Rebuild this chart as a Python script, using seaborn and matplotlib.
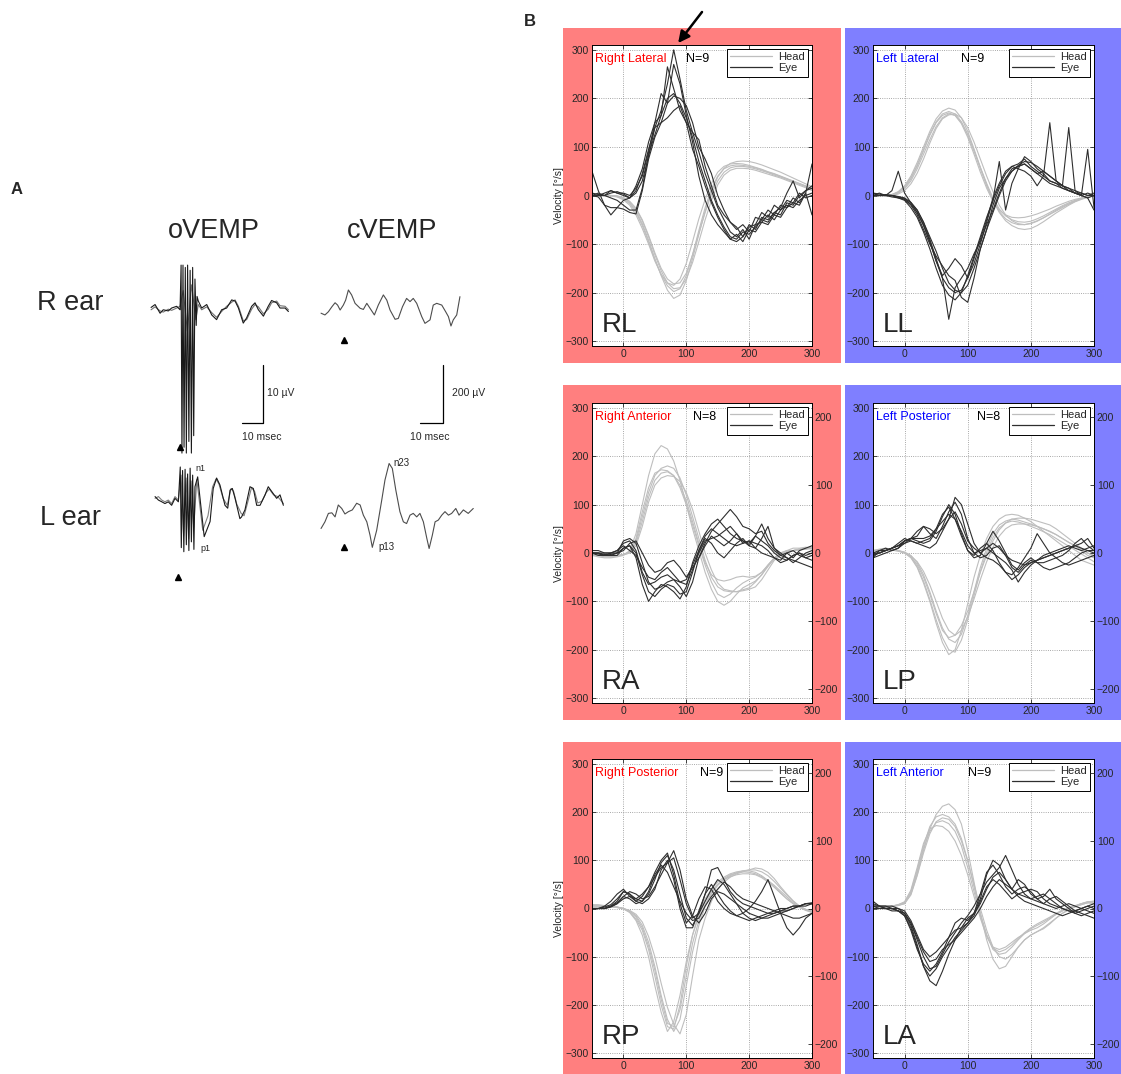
import numpy as np
import pandas as pd
import matplotlib
matplotlib.use("Agg")
import matplotlib.pyplot as plt
import seaborn as sns
from matplotlib.patches import Rectangle
from matplotlib.lines import Line2D

W, H = 1121, 1074

# ---------------- panel B data: velocity [deg/s] every 10 ms from -50 to 300 ms
T_MS = np.arange(-50, 301, 10)

RL_HEAD = [
    [0, 0, 0, 0, -2, -6, -15, -32, -58, -92, -130, -165, -195, -212, -205, -175, -130, -80, -32, 8, 38, 56, 66, 70, 71, 70, 67, 63, 58, 53, 48, 42, 36, 30, 24, 18],
    [0, 0, 0, -1, -3, -9, -20, -40, -68, -100, -135, -162, -180, -185, -172, -140, -95, -48, -8, 25, 48, 60, 65, 66, 65, 62, 58, 54, 49, 45, 40, 35, 30, 25, 20, 15],
    [0, 0, 0, 0, -1, -4, -12, -26, -50, -82, -118, -150, -172, -182, -180, -160, -122, -78, -35, 2, 30, 48, 57, 60, 60, 58, 55, 51, 47, 42, 38, 33, 28, 23, 18, 14],
    [0, 0, 0, 0, -2, -7, -17, -35, -62, -96, -132, -163, -186, -198, -192, -165, -122, -72, -25, 14, 40, 55, 61, 63, 62, 60, 57, 53, 48, 44, 39, 34, 29, 24, 19, 12],
    [0, 0, 0, 0, -1, -5, -13, -28, -52, -85, -122, -155, -180, -192, -190, -172, -138, -95, -50, -10, 22, 42, 52, 56, 56, 55, 52, 48, 44, 40, 36, 31, 26, 21, 16, 10],
]
RL_EYE = [
    [5, 2, 0, 5, 8, 3, -5, 10, 45, 95, 140, 175, 230, 300, 240, 175, 130, 90, 45, 10, -25, -50, -75, -85, -70, -90, -60, -55, -40, -50, -30, -20, -25, -10, 0, 5],
    [50, 10, -20, -40, -25, -10, -5, 20, 55, 110, 150, 165, 200, 210, 190, 160, 120, 70, 30, -10, -40, -65, -85, -90, -75, -80, -65, -50, -55, -35, -25, 5, 30, -5, 10, 15],
    [0, 0, 5, 10, 5, 0, -5, 5, 30, 80, 140, 150, 160, 175, 185, 150, 95, 60, 20, -15, -45, -70, -90, -80, -95, -70, -75, -55, -60, -40, -45, -25, -15, -20, 5, 65],
    [0, 0, 0, -5, -10, -20, -30, -30, 15, 85, 125, 165, 265, 220, 175, 150, 130, 115, 60, 20, -20, -40, -55, -70, -60, -75, -45, -50, -30, -40, -20, -25, -5, -15, 5, -40],
    [0, -3, -20, -25, -25, -28, -35, -38, 10, 75, 120, 150, 190, 205, 200, 185, 150, 100, 75, 45, 0, -30, -55, -65, -85, -60, -70, -45, -50, -35, -40, -15, -20, 0, 10, 20],
    [0, 5, 0, 10, 5, 5, 0, 15, 40, 90, 150, 210, 190, 270, 230, 165, 110, 40, -10, -40, -60, -75, -90, -95, -85, -65, -60, -35, -45, -20, -30, -10, -15, 5, -5, 0],
]

LL_HEAD = [
    [0, 0, 0, 2, 8, 20, 40, 68, 100, 132, 158, 174, 180, 176, 160, 132, 96, 58, 22, -10, -35, -52, -62, -68, -70, -68, -62, -54, -45, -36, -28, -20, -13, -8, -4, 0],
    [0, 0, 0, 1, 5, 14, 30, 55, 85, 115, 142, 160, 168, 165, 150, 125, 92, 58, 25, -5, -28, -42, -50, -54, -55, -53, -48, -42, -35, -28, -21, -15, -10, -6, -3, 0],
    [0, 0, 0, 1, 6, 16, 34, 60, 92, 124, 150, 165, 170, 165, 148, 120, 85, 48, 15, -12, -30, -40, -45, -46, -45, -42, -38, -33, -28, -22, -17, -12, -8, -5, -2, 0],
    [0, 0, 0, 0, 3, 10, 24, 46, 75, 108, 138, 158, 166, 168, 160, 140, 110, 75, 40, 8, -20, -40, -52, -58, -60, -58, -53, -46, -38, -30, -23, -17, -11, -6, -3, 0],
    [0, 0, 0, 2, 7, 18, 37, 63, 95, 127, 152, 168, 173, 168, 152, 126, 92, 55, 20, -10, -33, -48, -56, -60, -60, -57, -52, -46, -39, -32, -25, -18, -12, -7, -3, 0],
]
LL_EYE = [
    [5, 0, 2, 0, -5, -10, -25, -45, -75, -110, -150, -185, -205, -215, -200, -165, -125, -85, -45, -10, 20, 45, 60, 65, 75, 60, 50, 40, 30, 25, 20, 10, 5, 0, 5, 0],
    [0, 0, 0, 10, 50, 5, -15, -35, -60, -95, -135, -170, -190, -200, -195, -170, -130, -90, -50, -5, 25, 50, 60, 55, 50, 40, 20, 40, 150, 30, 20, 140, 10, 0, 95, -25],
    [0, 5, 0, 0, -2, -5, -15, -30, -55, -90, -130, -170, -255, -190, -170, -150, -120, -95, -60, -30, 5, 35, 55, 60, 65, 55, 45, 35, 25, 20, 15, 10, 5, 5, 0, 0],
    [0, 0, 0, -3, -5, -8, -20, -40, -70, -100, -125, -145, -165, -175, -210, -220, -170, -110, -70, -20, 15, 35, 50, 60, 65, 55, 45, 50, 40, 30, 20, 15, 10, 5, 0, 5],
    [0, 0, 0, 0, -3, -8, -18, -35, -62, -95, -135, -165, -150, -130, -145, -170, -140, -100, -55, -10, 70, -30, 25, 55, 80, 70, 55, 45, 30, 25, 15, 10, 5, 0, -5, 0],
    [5, 3, 0, 0, -3, -6, -14, -30, -55, -85, -115, -150, -180, -195, -200, -185, -150, -110, -70, -35, 0, 30, 50, 62, 70, 68, 60, 50, 40, 30, 20, 15, 5, 0, -5, -30],
]

RA_HEAD = [
    [-5, -8, -10, -10, -8, -5, 5, 40, 100, 160, 205, 222, 215, 190, 150, 100, 50, 5, -40, -75, -100, -108, -100, -85, -72, -65, -58, -45, -25, -10, 0, 5, 10, 10, 12, 10],
    [-5, -5, -8, -8, -6, -3, 2, 25, 75, 125, 160, 175, 180, 175, 155, 120, 75, 30, -15, -50, -70, -78, -80, -80, -78, -75, -70, -55, -35, -15, -5, 0, 5, 8, 10, 12],
    [-3, -5, -5, -6, -5, -3, 0, 20, 65, 115, 150, 165, 168, 160, 140, 108, 65, 20, -20, -45, -55, -58, -55, -50, -48, -50, -48, -40, -25, -10, 0, 5, 5, 8, 10, 8],
    [-5, -5, -6, -8, -6, -4, 0, 15, 55, 105, 140, 155, 160, 158, 148, 125, 90, 45, 0, -35, -62, -75, -78, -80, -76, -72, -60, -45, -28, -12, -3, 3, 5, 8, 8, 10],
    [-4, -5, -6, -6, -5, -3, 3, 30, 85, 135, 165, 172, 170, 160, 135, 100, 58, 15, -25, -60, -85, -92, -85, -72, -62, -55, -50, -40, -25, -12, -3, 2, 5, 6, 8, 10],
]
RA_EYE = [
    [0, -2, -5, 0, 5, 20, 25, 5, -40, -65, -60, -50, -45, -55, -70, -90, -60, -10, 20, 45, 60, 75, 90, 75, 55, 50, 40, 45, 20, 5, -5, -10, -15, -20, -25, -30],
    [0, 0, -5, -5, 0, 25, 30, 20, -20, -60, -75, -70, -60, -55, -60, -65, -35, 0, 25, 30, 35, 45, 55, 40, 25, 15, 10, 30, 55, 10, -5, 0, -10, 5, 10, 15],
    [0, 0, -3, -5, -5, 10, 15, -10, -65, -100, -80, -65, -70, -80, -95, -70, -20, 15, 40, 60, 70, 55, 40, 30, 25, 20, 35, 25, 15, 0, -10, -15, -5, 0, -10, -15],
    [0, 0, 0, 0, 0, 5, 20, 25, 0, -25, -40, -35, -20, -15, -30, -50, -30, -10, 15, 35, 25, 15, 25, 40, 20, 25, 10, 0, -5, -10, -15, 0, 5, -5, -10, -5],
    [5, 5, 0, 0, 5, 15, 5, -5, -30, -50, -55, -40, -30, -45, -60, -55, -25, 5, 30, 20, 0, -10, 5, 20, 30, 15, 35, 60, 30, 10, 0, -10, -20, -10, 0, 5],
    [0, -5, -5, -3, 0, 10, 15, 0, -45, -80, -90, -75, -65, -70, -85, -80, -40, 5, 35, 50, 40, 30, 20, 15, 20, 25, 20, 15, 5, -10, -20, -15, -5, 0, -5, 0],
]

LP_HEAD = [
    [5, 8, 10, 8, 5, 0, -10, -30, -62, -100, -145, -185, -210, -200, -160, -105, -50, -5, 30, 55, 70, 78, 80, 78, 72, 65, 55, 45, 35, 25, 15, 5, -5, -15, -20, -25],
    [5, 5, 8, 8, 5, 2, -5, -20, -45, -80, -120, -155, -178, -185, -168, -130, -80, -30, 10, 40, 58, 66, 70, 68, 64, 60, 55, 50, 45, 38, 30, 22, 15, 5, -5, -10],
    [5, 6, 8, 6, 4, 0, -8, -24, -50, -85, -125, -160, -175, -170, -150, -120, -80, -40, -5, 25, 48, 62, 70, 72, 72, 70, 66, 62, 58, 50, 40, 30, 20, 10, 0, -8],
    [4, 5, 6, 6, 4, 0, -6, -18, -38, -66, -100, -135, -160, -170, -160, -132, -95, -55, -18, 12, 35, 50, 58, 60, 60, 58, 55, 50, 44, 38, 30, 22, 15, 8, 0, -5],
    [5, 7, 9, 8, 5, 1, -8, -28, -58, -96, -138, -175, -200, -205, -180, -138, -88, -38, 2, 32, 52, 62, 66, 64, 60, 55, 50, 44, 38, 30, 22, 14, 6, -2, -10, -18],
]
LP_EYE = [
    [-10, 5, 10, 5, 10, 25, 30, 25, 20, 25, 45, 75, 100, 80, 40, 5, -5, 10, 20, 5, -20, -40, -55, -45, -30, -20, -15, -10, -5, 0, 5, 10, 15, 10, 5, 5],
    [-5, 0, 5, 10, 15, 25, 30, 35, 55, 40, 30, 55, 85, 105, 80, 30, 0, -10, -5, 10, 15, -5, -30, -40, -25, -15, -20, -20, -15, -10, -5, 5, 20, 30, 15, 5],
    [-5, 0, 5, 10, 20, 30, 25, 20, 25, 30, 50, 80, 95, 70, 35, 5, -10, -5, 20, 45, 25, 0, -25, -35, -20, -10, -20, -30, -35, -30, -25, -20, -10, 0, 5, 0],
    [0, 5, 5, 10, 15, 25, 30, 30, 30, 35, 50, 65, 80, 70, 45, 15, 0, 5, 10, 0, -10, -20, -35, -60, -40, -25, -15, -5, 0, 5, 10, 15, 10, 5, 10, 15],
    [0, 0, 5, 10, 15, 20, 30, 45, 55, 50, 40, 50, 70, 85, 60, 25, 10, 0, -10, -15, -25, -40, -45, -30, -10, 10, 40, 20, 0, -10, -20, -25, -20, -15, -10, -5],
    [-10, -5, 0, 5, 10, 20, 25, 20, 15, 10, 20, 45, 70, 115, 100, 60, 20, 0, 10, 20, 10, -5, -15, -20, -25, -20, -15, -10, -5, 0, 5, 10, 15, 20, 30, 10],
]

RP_HEAD = [
    [8, 8, 6, 5, 3, 0, -8, -22, -45, -85, -140, -200, -245, -250, -200, -120, -55, -10, 20, 40, 55, 65, 72, 76, 78, 78, 75, 68, 58, 45, 32, 20, 10, 3, -3, -8],
    [5, 5, 5, 4, 2, 0, -5, -15, -35, -70, -120, -180, -230, -255, -230, -160, -90, -35, 5, 30, 48, 60, 68, 74, 78, 80, 80, 76, 68, 56, 42, 28, 15, 5, -2, -5],
    [5, 5, 5, 4, 3, 0, -6, -18, -40, -78, -128, -188, -238, -245, -210, -140, -72, -25, 8, 32, 50, 62, 70, 74, 76, 75, 72, 66, 58, 48, 36, 24, 12, 4, -2, -6],
    [6, 6, 5, 4, 2, -1, -8, -25, -55, -100, -160, -215, -255, -235, -180, -110, -55, -15, 15, 35, 50, 60, 66, 70, 72, 72, 70, 64, 55, 44, 32, 20, 10, 2, -4, -8],
    [5, 5, 5, 4, 3, 0, -4, -12, -28, -58, -100, -155, -205, -240, -260, -220, -140, -65, -20, 15, 40, 55, 65, 72, 76, 80, 84, 82, 75, 62, 45, 30, 16, 5, -2, -5],
]
RP_EYE = [
    [0, 0, 5, 15, 30, 40, 25, 15, 25, 45, 75, 100, 115, 70, 10, -30, -15, 20, 45, 40, 15, 0, -10, -15, -20, -25, -20, -15, -10, -5, 0, 0, 5, 5, 10, 10],
    [0, 0, 0, 5, 15, 35, 30, 20, 15, 30, 60, 95, 110, 80, 30, -20, -35, -10, 30, 80, 85, 60, 35, 20, 10, 5, 0, -5, -10, -10, -5, -5, 0, 5, 5, 10],
    [0, 0, 0, 3, 10, 25, 35, 30, 20, 25, 45, 70, 95, 120, 80, 20, -15, -30, -10, 20, 35, 30, 20, 10, 0, -10, -15, -20, -20, -15, -10, -5, 0, 5, 10, 12],
    [0, 0, 3, 8, 20, 35, 30, 15, 10, 20, 40, 80, 100, 60, 0, -40, -40, -5, 30, 50, 30, 10, -5, -15, -10, 0, 15, 35, 60, 25, -10, -40, -55, -40, -20, -10],
    [0, 0, 0, 5, 12, 25, 20, 10, 15, 35, 70, 90, 75, 45, 15, -10, -25, -20, 5, 25, 40, 55, 45, 30, 20, 15, 10, 5, 0, -5, -10, -15, -20, -20, -15, -10],
    [0, 0, 0, 4, 10, 20, 25, 20, 30, 45, 65, 85, 95, 105, 60, 10, -20, -10, 15, 40, 60, 50, 30, 10, -10, -20, -25, -20, -15, -10, -5, 0, 5, 5, 10, 10],
]

LA_HEAD = [
    [0, 0, 2, 5, 8, 12, 30, 70, 120, 165, 195, 212, 217, 205, 175, 120, 55, -10, -65, -105, -125, -120, -100, -80, -65, -55, -48, -40, -30, -20, -10, -3, 3, 8, 12, 15],
    [0, 0, 2, 4, 7, 12, 35, 80, 130, 170, 190, 195, 190, 175, 145, 100, 45, -10, -55, -85, -95, -92, -80, -65, -52, -42, -35, -28, -20, -12, -5, 0, 5, 10, 14, 15],
    [0, 0, 1, 4, 7, 10, 32, 75, 125, 160, 178, 182, 176, 160, 130, 85, 35, -15, -55, -80, -85, -80, -70, -60, -52, -45, -40, -32, -22, -12, -5, 0, 5, 8, 12, 10],
    [0, 1, 2, 5, 8, 14, 38, 85, 135, 165, 172, 170, 160, 140, 110, 70, 25, -20, -58, -82, -90, -85, -75, -62, -50, -40, -32, -25, -18, -10, -3, 2, 6, 10, 12, 12],
    [0, 0, 2, 4, 6, 10, 28, 68, 115, 155, 180, 188, 185, 170, 140, 98, 50, 0, -45, -80, -100, -105, -95, -80, -65, -55, -48, -42, -32, -20, -10, -2, 5, 10, 14, 15],
]
LA_EYE = [
    [15, 5, 0, 0, 0, -10, -35, -75, -120, -150, -160, -130, -95, -65, -40, -20, -10, 20, 70, 100, 90, 60, 40, 30, 25, 20, 25, 30, 20, 10, 0, -5, -10, -5, 0, 5],
    [5, 5, 5, 0, -5, -15, -40, -80, -120, -140, -125, -100, -80, -60, -45, -30, -10, 30, 75, 90, 70, 45, 30, 40, 45, 35, 20, 10, 20, 25, 15, 5, -5, -10, -15, -20],
    [5, 0, 0, 0, -5, -10, -30, -65, -100, -125, -120, -95, -70, -50, -30, -15, 5, 30, 55, 70, 85, 110, 80, 50, 30, 20, 15, 10, 5, 0, 5, 10, 5, 0, -5, -10],
    [10, 5, 5, 5, 0, -5, -25, -55, -85, -100, -90, -75, -60, -45, -40, -30, -15, 15, 45, 60, 50, 35, 20, 30, 35, 40, 35, 20, 10, 5, 0, -5, -5, 0, 5, 10],
    [0, 0, 0, -5, -5, -15, -45, -85, -115, -130, -115, -90, -60, -30, -20, -25, -10, 10, 40, 65, 75, 60, 40, 25, 15, 10, 5, 0, -5, -10, -15, -10, -5, 0, 5, 0],
    [5, 5, 0, 0, -5, -10, -30, -60, -90, -110, -105, -85, -75, -65, -50, -35, -20, 0, 25, 45, 60, 50, 40, 60, 50, 30, 20, 25, 40, 20, 10, 0, -10, -15, -10, -5],
]

# label, title, N, row, col, head curves, eye curves
PANELS = [
    ("RL", "Right Lateral", 9, 0, 0, RL_HEAD, RL_EYE),
    ("LL", "Left Lateral", 9, 0, 1, LL_HEAD, LL_EYE),
    ("RA", "Right Anterior", 8, 1, 0, RA_HEAD, RA_EYE),
    ("LP", "Left Posterior", 8, 1, 1, LP_HEAD, LP_EYE),
    ("RP", "Right Posterior", 9, 2, 0, RP_HEAD, RP_EYE),
    ("LA", "Left Anterior", 9, 2, 1, LA_HEAD, LA_EYE),
]
N_X = {"RL": 0.427, "LL": 0.40, "RA": 0.46, "LP": 0.47, "RP": 0.49, "LA": 0.43}

LEFT_TICKS = [-300, -200, -100, 0, 100, 200, 300]
RIGHT_TICKS = [-200, -100, 0, 100, 200]
X_TICKS = [0, 100, 200, 300]

# ---------------- panel A data (time ms from stimulus, amplitude uV)
OVEMP_R1_T = [-13.3, -11.4, -9.0, -7.5, -5.1, -3.5, -1.1, 0.5,
              1.0, 1.4, 1.9, 2.4, 3.0, 3.5, 4.1, 4.7, 5.3, 5.9, 6.5, 7.0, 7.6, 8.2, 8.6,
              9.2, 10.8, 13.2, 15.6, 17.9, 20.3, 22.7, 25.1, 26.7, 28.3, 30.6, 32.2, 34.6, 36.2,
              37.8, 40.2, 42.5, 44.1, 46.5, 48.1, 50.5, 52.1]
OVEMP_R1_V = [0.1, 0.6, -0.9, -0.3, -0.5, 0.0, 0.3, -0.3,
              7.4, -25.0, 7.4, -24.0, 7.0, -25.0, 7.4, -23.0, 6.5, -25.0, 7.0, -22.0, 5.0, -3.0, 2.0,
              1.2, 0.0, 0.6, -1.2, -2.0, -0.3, 0.0, 1.4, 1.2, 0.0, -2.6, -1.7, 0.3, 0.9,
              -0.3, -1.4, 0.3, 1.3, 0.9, 0.0, 0.0, -0.6]
OVEMP_R2_T = [-13.3, -11.4, -9.0, -7.5, -5.1, -3.5, -1.1, 0.5, 2.0, 4.0, 6.0, 8.0,
              9.2, 10.8, 13.2, 15.6, 17.9, 20.3, 22.7, 25.1, 26.7, 28.3, 30.6, 32.2, 34.6, 36.2,
              37.8, 40.2, 42.5, 44.1, 46.5, 48.1, 50.5, 52.1]
OVEMP_R2_V = [-0.3, 0.2, -0.5, -0.7, -0.2, -0.4, 0.0, 0.3, 3.0, -4.0, 4.0, -2.0,
              0.6, -0.3, 0.2, -0.8, -1.6, -0.6, 0.3, 1.0, 1.4, 0.3, -2.2, -2.0, -0.2, 0.6,
              0.2, -1.0, -0.2, 0.9, 1.2, 0.4, 0.3, -0.3]
OVEMP_L1_T = [-11.4, -9.8, -8.2, -6.7, -5.1, -3.5, -1.9, -0.3,
              0.6, 1.1, 1.7, 2.3, 2.9, 3.5, 4.1, 4.7, 5.3, 5.9, 6.5, 7.1, 7.6,
              8.9, 12.0, 14.8, 16.3, 17.9, 19.5, 21.9, 23.2, 24.3, 25.4, 26.7, 29.0, 29.8, 31.4,
              33.8, 35.4, 37.0, 38.6, 41.0, 42.5, 44.1, 46.5, 48.1, 49.7]
OVEMP_L1_V = [0.3, -0.3, -0.6, -0.9, -0.6, -1.2, 0.0, -0.6,
              5.4, -8.5, 4.8, -9.2, 5.0, -8.0, 4.2, -9.0, 5.2, -7.5, 4.0, -8.8, 2.0,
              3.7, -6.6, -4.0, 1.7, 3.5, 2.3, -1.2, -1.7, 1.4, 1.7, 0.0, -3.5, -3.2, -2.0,
              2.0, 1.7, -1.2, -1.2, 0.6, 2.0, 1.2, 0.0, 0.6, -1.2]
OVEMP_L2_T = [-11.4, -9.8, -8.2, -6.7, -5.1, -3.5, -1.9, -0.3,
              1.0, 2.2, 3.4, 4.6, 5.8, 7.0,
              8.5, 11.3, 13.8, 16.0, 17.6, 19.0, 21.0, 23.0, 24.8, 26.0, 27.5, 29.6, 31.0, 32.5,
              34.5, 36.0, 37.5, 39.5, 41.5, 43.0, 45.0, 47.0, 49.7]
OVEMP_L2_V = [0.0, 0.3, -0.3, -0.6, -0.3, -0.9, 0.3, -0.3,
              4.0, -6.5, 3.5, -7.0, 3.0, -5.0,
              3.2, -5.5, -3.0, 2.0, 3.3, 2.5, 0.0, -1.2, 1.7, 1.2, -1.0, -2.6, -3.0, -1.0,
              1.8, 1.2, -0.8, -0.5, 1.0, 1.6, 0.6, 0.3, -0.9]
CVEMP_R_T = [-10.0, -8.3, -6.8, -5.3, -3.9, -2.8, -1.7, -0.3, 0.7, 1.9, 3.3, 4.8, 7.0, 8.4,
             9.9, 11.3, 13.2, 14.9, 17.1, 18.6, 20.0, 22.2, 23.6, 25.4, 27.2, 28.7, 30.1, 31.6,
             33.8, 35.2, 37.4, 38.8, 40.3, 42.5, 44.2, 45.4, 46.5, 47.5, 49.0, 50.4]
CVEMP_R_V = [-11, -17, -6, 11, 25, 17, 0, 17, 34, 69, 52, 23, 6, 2,
             23, 6, -17, 17, 52, 34, 0, -32, -29, 11, 40, 29, 40, 23,
             -23, -46, -34, 17, 23, 17, -6, -23, -55, -34, -17, 46]
CVEMP_L_T = [-10.0, -8.3, -6.8, -5.3, -3.9, -2.5, -1.0, 0.4, 1.9, 3.6, 5.5, 7.0, 8.4, 9.9, 11.3,
             12.3, 14.2, 16.4, 17.8, 19.6, 21.0, 22.5, 24.3, 25.8, 27.2, 28.7, 30.1, 31.6, 33.0,
             34.5, 36.0, 37.0, 38.4, 39.6, 41.0, 42.5, 43.9, 45.4, 46.8, 48.6, 50.0, 51.9, 54.0, 56.2]
CVEMP_L_V = [-52, -29, 0, 2, -12, 29, 17, -2, 6, 12, 35, 29, -6, -29, -75,
             -117, -58, 46, 115, 172, 155, 81, 6, -29, -35, -6, 0, -12, 0,
             -29, -86, -121, -75, -29, -23, -6, 6, -6, 0, 17, -6, 12, 0, 17]

HEAD_C = "#BEBEBE"
EYE_C = "#2E2E2E"
RED_BG = "#FF7F7F"
BLUE_BG = "#7F7FFF"


def fx(px):
    return px / W


def fy(py):
    return 1 - py / H


def add_px_axes(fig, x0, y0, x1, y1):
    return fig.add_axes([fx(x0), fy(y1), (x1 - x0) / W, (y1 - y0) / H])


def draw_panel_a(fig):
    fig.text(fx(17), fy(190), "A", fontsize=12, fontweight="bold", ha="center", va="center")
    fig.text(fx(214), fy(231), "oVEMP", fontsize=19.5, ha="center", va="center")
    fig.text(fx(392), fy(231), "cVEMP", fontsize=19.5, ha="center", va="center")
    fig.text(fx(70), fy(303), "R ear", fontsize=19.5, ha="center", va="center")
    fig.text(fx(70), fy(518), "L ear", fontsize=19.5, ha="center", va="center")

    l_off_o = -32.8   # baseline of the L ear oVEMP traces
    l_off_c = -701.0  # baseline of the L ear cVEMP trace

    axo = add_px_axes(fig, 140, 255, 300, 590)
    axo.set_xlim(-18.57, 57.62)
    axo.set_ylim(-48.6, 9.14)
    axo.axis("off")
    axo.plot(OVEMP_R2_T, OVEMP_R2_V, color="0.45", lw=0.8)
    axo.plot(OVEMP_R1_T, OVEMP_R1_V, color="0.1", lw=0.8)
    axo.plot(OVEMP_L2_T, np.array(OVEMP_L2_V) + l_off_o, color="0.5", lw=0.8)
    axo.plot(OVEMP_L1_T, np.array(OVEMP_L1_V) + l_off_o, color="0.1", lw=0.8)
    axo.plot([0.5, -0.5], [-24.0, -46.4], ls="none", marker="^", color="black", ms=5, clip_on=False)
    axo.plot([30, 40, 40], [-19.8, -19.8, -9.8], color="black", lw=0.9)
    axo.text(41.9, -14.65, "10 µV", fontsize=7.5, ha="left", va="center")
    axo.text(39.5, -22.2, "10 msec", fontsize=7.5, ha="center", va="center")
    axo.text(7.6, l_off_o + 5.2, "n1", fontsize=6.5, ha="left", va="center")
    axo.text(10.0, l_off_o - 8.6, "p1", fontsize=6.5, ha="left", va="center")

    axc = add_px_axes(fig, 310, 255, 485, 590)
    axc.set_xlim(-14.8, 61.3)
    axc.set_ylim(-965, 189.6)
    axc.axis("off")
    axc.plot(CVEMP_R_T, CVEMP_R_V, color="0.3", lw=0.8)
    axc.plot(CVEMP_L_T, np.array(CVEMP_L_V) + l_off_c, color="0.3", lw=0.8)
    axc.plot([0.1, 0.1], [-103, -816], ls="none", marker="^", color="black", ms=5, clip_on=False)
    axc.plot([33, 43, 43], [-390, -390, -190], color="black", lw=0.9)
    axc.text(47.0, -286, "200 µV", fontsize=7.5, ha="left", va="center")
    axc.text(37.4, -438, "10 msec", fontsize=7.5, ha="center", va="center")
    axc.text(21.3, l_off_c + 173, "n23", fontsize=7, ha="left", va="center")
    axc.text(14.8, l_off_c - 117, "p13", fontsize=7, ha="left", va="center")


def curves_frame(head, eye):
    rows = []
    for kind, curves in (("Head", head), ("Eye", eye)):
        for i, c in enumerate(curves):
            if len(c) != len(T_MS):
                raise ValueError(f"{kind} curve {i} has {len(c)} points")
            for t, v in zip(T_MS, c):
                rows.append((kind, f"{kind}{i}", t, v))
    return pd.DataFrame(rows, columns=["kind", "trace", "t", "v"])


def draw_panel_b(fig):
    col_px = [(592, 812), (873, 1094)]
    row_px = [(45, 346), (403, 703), (759, 1058)]
    col_bg = [(563, 841, RED_BG, "red"), (845, 1125, BLUE_BG, "blue")]
    row_bg = [(28, 363), (385, 720), (742, 1080)]

    for (y0, y1) in row_bg:
        for (x0, x1, bg, _) in col_bg:
            fig.add_artist(Rectangle((fx(x0), fy(y1)), (x1 - x0) / W, (y1 - y0) / H,
                                     transform=fig.transFigure, facecolor=bg,
                                     edgecolor="none", zorder=-1))
    fig.text(fx(530), fy(22), "B", fontsize=12, fontweight="bold", ha="center", va="center")

    axes = {}
    for label, title, n, r, c, head, eye in PANELS:
        x0, x1 = col_px[c]
        y0, y1 = row_px[r]
        ax = add_px_axes(fig, x0, y0, x1, y1)
        ax.set_facecolor("white")
        df = curves_frame(head, eye)
        sns.lineplot(data=df, x="t", y="v", hue="kind", units="trace", estimator=None,
                     hue_order=["Head", "Eye"], palette={"Head": HEAD_C, "Eye": EYE_C},
                     linewidth=0.8, legend=False, sort=False, ax=ax)
        ax.set_xlim(-50, 300)
        ax.set_ylim(-310, 310)
        ax.set_xticks(X_TICKS)
        ax.set_yticks(LEFT_TICKS)
        ax.set_xlabel("")
        ax.set_ylabel("Velocity [°/s]" if c == 0 else "", fontsize=7.5, labelpad=1)
        ax.grid(True, linestyle=":", color="0.55", linewidth=0.6)
        ax.tick_params(direction="in", length=3, width=0.6, labelsize=7.5, pad=2,
                       bottom=True, left=True, top=True, right=(r == 0), labelright=False)
        for s in ax.spines.values():
            s.set_color("black")
            s.set_linewidth(0.7)

        if r > 0:
            ax2 = ax.twinx()
            ax2.set_ylim(-221, 221)
            ax2.set_yticks(RIGHT_TICKS)
            ax2.tick_params(direction="in", length=3, width=0.6, labelsize=7.5, pad=2, right=True)
            ax2.grid(False)
            for s in ax2.spines.values():
                s.set_visible(False)

        ax.text(0.012, 0.952, title, color=col_bg[c][3], fontsize=9, va="center",
                transform=ax.transAxes)
        ax.text(N_X[label], 0.952, f"N={n}", color="black", fontsize=9, va="center",
                transform=ax.transAxes)
        ax.text(0.045, 0.028, label, fontsize=20, va="bottom", transform=ax.transAxes)

        handles = [Line2D([], [], color=HEAD_C, lw=0.9), Line2D([], [], color=EYE_C, lw=0.9)]
        leg = ax.legend(handles, ["Head", "Eye"], loc="upper right", fontsize=8,
                        frameon=True, fancybox=False, edgecolor="black", framealpha=1,
                        borderpad=0.3, labelspacing=0.1, handlelength=3.8,
                        handletextpad=0.5, borderaxespad=0.35)
        leg.get_frame().set_linewidth(0.7)
        axes[label] = ax

    # arrow pointing at the largest eye peak in RL
    axes["RL"].annotate("", xy=(87, 314), xytext=(125, 378),
                        arrowprops=dict(arrowstyle="-|>", color="black", lw=1.8,
                                        mutation_scale=17, shrinkA=0, shrinkB=0),
                        annotation_clip=False)


def main():
    sns.set_theme(style="white")
    plt.rcParams["font.family"] = ["Liberation Sans", "DejaVu Sans"]
    plt.rcParams["axes.unicode_minus"] = True

    fig = plt.figure(figsize=(W / 100, H / 100), dpi=100)
    fig.patch.set_facecolor("white")
    draw_panel_a(fig)
    draw_panel_b(fig)
    fig.savefig("out.png", dpi=100)
    plt.close(fig)


if __name__ == "__main__":
    main()
